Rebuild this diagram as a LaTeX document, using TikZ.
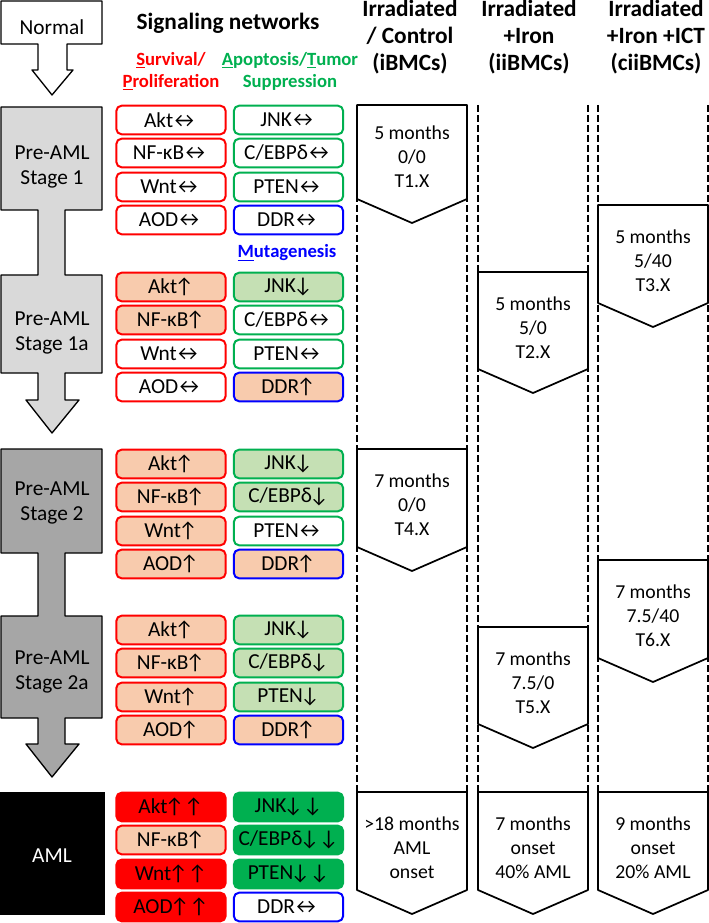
\documentclass[tikz,border=0pt]{standalone}
\usepackage{fontspec}
\setmainfont{Carlito}
\definecolor{sred}{HTML}{FF0000}
\definecolor{sgreen}{HTML}{00B050}
\definecolor{sblue}{HTML}{0000FF}
\definecolor{peach}{HTML}{F8CBAD}
\definecolor{lgreen}{HTML}{C5E0B4}
\definecolor{lgray}{HTML}{D9D9D9}
\definecolor{dgray}{HTML}{A6A6A6}
\newcommand{\arlr}{\kern-2pt↔}
\newcommand{\arup}{\kern-2pt↑}
\newcommand{\ardn}{\kern-2pt↓}
\begin{document}
\begin{tikzpicture}[x=0.75pt, y=-0.75pt, line join=round,
  sig/.style={rounded corners=4pt, line width=1.5pt, minimum width=82pt, minimum height=21.5pt, inner sep=0pt, font=\fontsize{16}{18}\selectfont},
  surv/.style={sig, draw=sred, fill=white},
  survup/.style={sig, draw=sred, fill=peach},
  survhi/.style={sig, draw=sred, fill=sred},
  apop/.style={sig, draw=sgreen, fill=white},
  apopdn/.style={sig, draw=sgreen, fill=lgreen},
  apophi/.style={sig, draw=sgreen, fill=sgreen},
  mut/.style={sig, draw=sblue, fill=white},
  mutup/.style={sig, draw=sblue, fill=peach},
  hdr/.style={font=\fontsize{17.5}{20}\selectfont\bfseries, align=center},
  sub/.style={font=\fontsize{14}{16.5}\selectfont\bfseries, align=center},
  stagetxt/.style={font=\fontsize{16}{18.75}\selectfont, align=center},
  pent/.style={draw, fill=white, line width=1.3pt},
  ptxt/.style={font=\fontsize{14.8}{18}\selectfont, align=center}]
\useasboundingbox (0,0) rectangle (709,923);

% headers
\node[hdr] (signet) at (228,23) {Signaling networks};
\node[sub, text=sred] (survlbl) at (171,71) {\underline{S}urvival/\\\underline{P}roliferation};
\node[sub, text=sgreen] (apoplbl) at (290,71) {\underline{A}poptosis/\underline{T}umor\\Suppression};
\node[sub, text=sblue] (mutlbl) at (287,253) {\underline{M}utagenesis};
\node[hdr] (ibmc) at (410,37) {Irradiated\\/ Control\\(iBMCs)};
\node[hdr] (iibmc) at (529,37) {Irradiated\\+Iron\\(iiBMCs)};
\node[hdr] (ciibmc) at (656,37) {Irradiated\\+Iron +ICT\\(ciiBMCs)};

% stage arrows
\draw[fill=white, line width=1pt] (1,1)--(102,1)--(102,44)--(67,44)--(67,70)--(73,70)--(52,95)--(32,70)--(38,70)--(38,44)--(1,44)--cycle;
\draw[fill=lgray, line width=1pt] (1,107)--(102,107)--(102,210)--(65,210)--(65,275)--(102,275)--(102,373)--(65,373)--(65,400)--(79,400)--(52,433)--(26,400)--(38,400)--(38,373)--(1,373)--(1,275)--(38,275)--(38,210)--(1,210)--cycle;
\draw[fill=dgray, line width=1pt] (1,449)--(102,449)--(102,553)--(65,553)--(65,616)--(102,616)--(102,718)--(65,718)--(65,744)--(79,744)--(52,777)--(26,744)--(38,744)--(38,718)--(1,718)--(1,616)--(38,616)--(38,553)--(1,553)--cycle;
\fill[black] (0,792) rectangle (105,915);
\node[stagetxt] (normal) at (52,27) {Normal};
\node[stagetxt] (pre1) at (52,167) {Pre-AML\\Stage 1};
\node[stagetxt] (pre1a) at (52,333) {Pre-AML\\Stage 1a};
\node[stagetxt] (pre2) at (52,503) {Pre-AML\\Stage 2};
\node[stagetxt] (pre2a) at (52,672) {Pre-AML\\Stage 2a};
\node[stagetxt, text=white] (aml) at (52,856) {AML};

% stage 1
\node[surv] (akt1) at (171,120) {Akt\arlr};
\node[surv] (nfkb1) at (171,153) {NF-κB\arlr};
\node[surv] (wnt1) at (171,187) {Wnt\arlr};
\node[surv] (aod1) at (171,220) {AOD\arlr};
\node[apop] (jnk1) at (288.5,120) {JNK\arlr};
\node[apop] (cebp1) at (288.5,153) {C/EBPδ\arlr};
\node[apop] (pten1) at (288.5,187) {PTEN\arlr};
\node[mut] (ddr1) at (288.5,220) {DDR\arlr};
% stage 1a
\node[survup] (akt1a) at (171,287) {Akt\arup};
\node[survup] (nfkb1a) at (171,320) {NF-κB\arup};
\node[surv] (wnt1a) at (171,354) {Wnt\arlr};
\node[surv] (aod1a) at (171,387) {AOD\arlr};
\node[apopdn] (jnk1a) at (288.5,287) {JNK\ardn};
\node[apop] (cebp1a) at (288.5,320) {C/EBPδ\arlr};
\node[apop] (pten1a) at (288.5,354) {PTEN\arlr};
\node[mutup] (ddr1a) at (288.5,387) {DDR\arup};
% stage 2
\node[survup] (akt2) at (171,464) {Akt\arup};
\node[survup] (nfkb2) at (171,497) {NF-κB\arup};
\node[survup] (wnt2) at (171,531) {Wnt\arup};
\node[survup] (aod2) at (171,564) {AOD\arup};
\node[apopdn] (jnk2) at (288.5,464) {JNK\ardn};
\node[apopdn] (cebp2) at (288.5,497) {C/EBPδ\ardn};
\node[apop] (pten2) at (288.5,531) {PTEN\arlr};
\node[mutup] (ddr2) at (288.5,564) {DDR\arup};
% stage 2a
\node[survup] (akt2a) at (171,630) {Akt\arup};
\node[survup] (nfkb2a) at (171,663) {NF-κB\arup};
\node[survup] (wnt2a) at (171,697) {Wnt\arup};
\node[survup] (aod2a) at (171,730) {AOD\arup};
\node[apopdn] (jnk2a) at (288.5,630) {JNK\ardn};
\node[apopdn] (cebp2a) at (288.5,663) {C/EBPδ\ardn};
\node[apopdn] (pten2a) at (288.5,697) {PTEN\ardn};
\node[mutup] (ddr2a) at (288.5,730) {DDR\arup};
% AML
\node[survhi] (aktaml) at (171,807) {Akt\arup↑};
\node[survup] (nfkbaml) at (171,840) {NF-κB\arup};
\node[survhi] (wntaml) at (171,874) {Wnt\arup↑};
\node[survhi] (aodaml) at (171,907) {AOD\arup↑};
\node[apophi] (jnkaml) at (288.5,807) {JNK\ardn↓};
\node[apophi] (cebpaml) at (288.5,840) {C/EBPδ\ardn↓};
\node[apophi] (ptenaml) at (288.5,874) {PTEN\ardn↓};
\node[mut] (ddraml) at (288.5,907) {DDR\arlr};

% timelines
\foreach \x in {357,467,478,588,598,708}
  \draw[dash pattern=on 5pt off 2.5pt, line width=0.9pt] (\x,105)--(\x,792);

\draw[pent] (357,105)--(467,105)--(467,199)--(412,223)--(357,199)--cycle;
\node[ptxt] (t1) at (412,157) {5 months\\0/0\\T1.X};
\draw[pent] (478,272)--(588,272)--(588,369)--(533,393)--(478,369)--cycle;
\node[ptxt] (t2) at (533,328) {5 months\\5/0\\T2.X};
\draw[pent] (598,205)--(708,205)--(708,303)--(653,327)--(598,303)--cycle;
\node[ptxt] (t3) at (653,261) {5 months\\5/40\\T3.X};
\draw[pent] (357,449)--(467,449)--(467,547)--(412,571)--(357,547)--cycle;
\node[ptxt] (t4) at (412,505) {7 months\\0/0\\T4.X};
\draw[pent] (478,627)--(588,627)--(588,724)--(533,748)--(478,724)--cycle;
\node[ptxt] (t5) at (533,683) {7 months\\7.5/0\\T5.X};
\draw[pent] (598,560)--(708,560)--(708,658)--(653,682)--(598,658)--cycle;
\node[ptxt] (t6) at (653,616) {7 months\\7.5/40\\T6.X};

\draw[pent] (357,792)--(467,792)--(467,890)--(412,914)--(357,890)--cycle;
\node[ptxt] (onset1) at (412,848) {>18 months\\AML\\onset};
\draw[pent] (478,792)--(588,792)--(588,890)--(533,914)--(478,890)--cycle;
\node[ptxt] (onset2) at (533,848) {7 months\\onset\\40\% AML};
\draw[pent] (598,792)--(708,792)--(708,890)--(653,914)--(598,890)--cycle;
\node[ptxt] (onset3) at (653,848) {9 months\\onset\\20\% AML};
\end{tikzpicture}
\end{document}
